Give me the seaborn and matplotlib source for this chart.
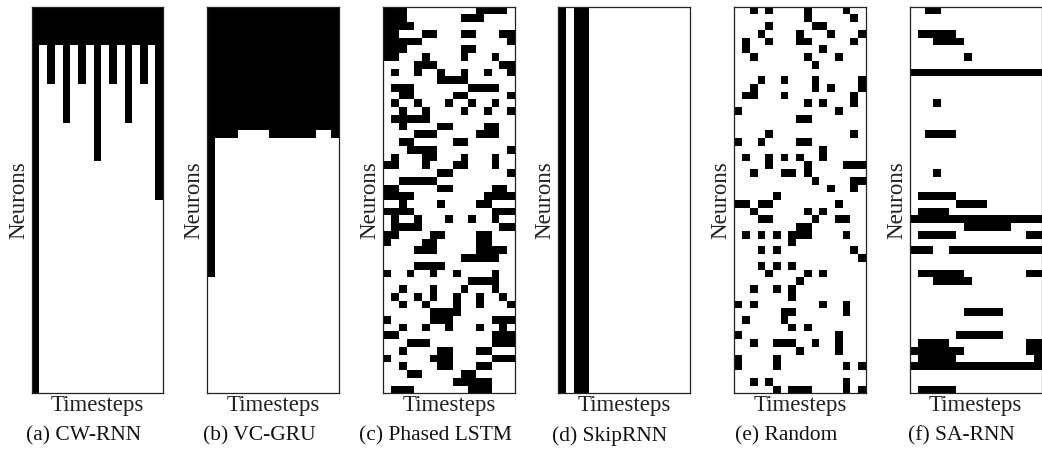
import numpy as np
import seaborn as sns
import matplotlib.pyplot as plt
from matplotlib.colors import ListedColormap

# Update patterns: one string per neuron (row), one char per timestep (column)
# '#' = neuron updated, '.' = not updated

cw_rnn = """
#################
#################
#################
#################
#################
#.#.#.#.#.#.#.#.#
#.#.#.#.#.#.#.#.#
#.#.#.#.#.#.#.#.#
#.#.#.#.#.#.#.#.#
#.#.#.#.#.#.#.#.#
#...#...#...#...#
#...#...#...#...#
#...#...#...#...#
#...#...#...#...#
#...#...#...#...#
#.......#.......#
#.......#.......#
#.......#.......#
#.......#.......#
#.......#.......#
#...............#
#...............#
#...............#
#...............#
#...............#
#................
#................
#................
#................
#................
#................
#................
#................
#................
#................
#................
#................
#................
#................
#................
#................
#................
#................
#................
#................
#................
#................
#................
#................
#................
"""

vc_gru = """
#################
#################
#################
#################
#################
#################
#################
#################
#################
#################
#################
#################
#################
#################
#################
#################
####....######..#
#................
#................
#................
#................
#................
#................
#................
#................
#................
#................
#................
#................
#................
#................
#................
#................
#................
#................
.................
.................
.................
.................
.................
.................
.................
.................
.................
.................
.................
.................
.................
.................
.................
"""

phased_lstm = """
###.........####.
###.......###....
####.............
##...##...##...##
#####...........#
###.......##.....
##...#....#...#..
....###........##
.#..#..#..#..#..#
.......####......
.###.......####..
..##.....##.....#
.#..#...#..#..#..
..#..#....#..#..#
.#####...........
..#....##....##..
....###.....###..
..##.....##......
...####.........#
.#...##...#...#..
##...#...##...#..
.......##.......#
..#####..........
##.....##.....##.
####.........####
..#....#....##...
####..........###
.#..#...#..#..#..
.####..........##
##....##....##...
#....##.....##...
....###.....####.
..........#####..
....####.........
#..#..#..#....#..
...........####..
..#...#...#...#..
.#..#.#..#..#..#.
..#..#...#..#...#
......####.......
#.....###.....###
..#..#..#...#..#.
##............###
...###........###
..#....##...##...
#.....###.....###
..#....##...##...
...##.....##.....
.........#####...
.###.......###...
"""

skip_rnn = "\n".join(["#.##............."] * 50)

random_mask = """
..#.#....#....#..
.........#.....#.
....#.....##.....
...#....#...#...#
.#..#...##.....#.
.#.........#.....
..#......#...#...
..........#......
.................
...#..#...#.....#
..#.......#.#...#
.##...#........#.
.........#.#...#.
#............#...
........##.......
.................
....#..........#.
#..#....##.......
...........#.....
.#..#.#.#..#.....
....#....#....###
..#...##.#.......
..........#....##
............#..#.
.....#...........
##.##........#...
..#......#.#.....
...##.....#..##..
........##.......
.#.#.#.###....#..
.......#.........
...#.#.........#.
................#
...#.#.#.........
....#....#.#.....
........#........
..#..#.#.........
.......#.........
#.#........#..#..
......##......#..
.#....#..........
.......#.#.......
#............#...
..#..###..#..#...
........#....#...
#....#...........
#....#........#.#
.................
..#.#.........#..
.....#.###....#.#
"""

sa_rnn = """
..##.............
.................
.................
.#####...........
...####..........
.................
.......#.........
.................
#################
.................
.................
.................
...#.............
.................
.................
.................
..####...........
.................
.................
.................
.................
...#.............
.................
.................
.#####...........
......####.......
.####............
#################
.......######....
.#####.........##
.................
###..############
.................
.................
.######........##
...#####.........
.................
.................
.................
.......#####.....
.................
.................
......######.....
.####..........##
#######........##
.#####..........#
#################
.................
.................
.#####...........
"""

captions = ["(a) CW-RNN", "(b) VC-GRU", "(c) Phased LSTM",
            "(d) SkipRNN", "(e) Random", "(f) SA-RNN"]
patterns = [cw_rnn, vc_gru, phased_lstm, skip_rnn, random_mask, sa_rnn]


def to_matrix(block):
    rows = [r for r in block.strip().split("\n")]
    return np.array([[1 if ch == "#" else 0 for ch in r] for r in rows])


plt.rcParams["font.family"] = ["Liberation Serif", "DejaVu Serif"]

fig = plt.figure(figsize=(10.42, 4.61), dpi=100)
cmap = ListedColormap(["white", "black"])

W, H = 1042, 461
lefts = [31.7, 207.3, 383.3, 558.3, 734.3, 910.0]
top, bottom, width = 6.7, 393.3, 131.5

for i, (block, cap) in enumerate(zip(patterns, captions)):
    ax = fig.add_axes([lefts[i] / W, (H - bottom) / H, width / W, (bottom - top) / H])
    sns.heatmap(to_matrix(block), cmap=cmap, vmin=0, vmax=1, cbar=False,
                xticklabels=False, yticklabels=False, ax=ax)
    for s in ax.spines.values():
        s.set_visible(True)
        s.set_color("#222222")
        s.set_linewidth(0.9)
    ax.set_xlabel("Timesteps", fontsize=16.5, labelpad=1, color="#222222")
    ax.set_ylabel("Neurons", fontsize=16.5, labelpad=2, color="#222222")
    # subcaption is centred under the whole subfigure (incl. the y label)
    ax.text(0.5 - 14 / width, -0.11, cap, transform=ax.transAxes,
            ha="center", va="center", fontsize=15.5, color="#111111")

plt.savefig("out.png", dpi=100)
plt.close()
